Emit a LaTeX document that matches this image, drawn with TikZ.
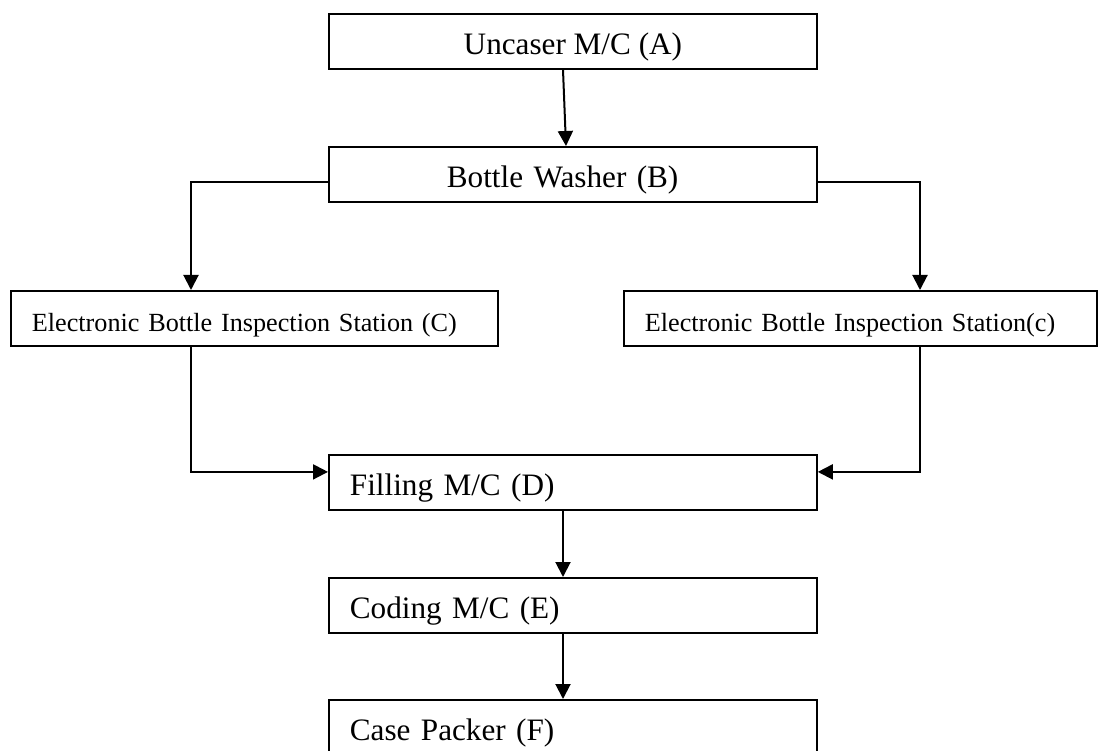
\documentclass[tikz,border=0pt]{standalone}
\usepackage{fontspec}
\setmainfont{Liberation Serif}
\usetikzlibrary{arrows.meta}
\begin{document}
\begin{tikzpicture}[x=1pt,y=-1pt,
  box/.style={draw,line width=1.8pt,rectangle,minimum height=55pt,inner ysep=0pt,
    text height=27pt,text depth=0pt,anchor=north west},
  bigtxt/.style={font=\fontsize{31.2}{34}\selectfont},
  smalltxt/.style={font=\fontsize{26.2}{30}\selectfont},
  cbox/.style={box,bigtxt,minimum width=488pt,align=center},
  lbox/.style={box,inner xsep=21pt,align=left},
  arr/.style={line width=2pt,-{Triangle[length=15pt,width=15pt]}}]
\useasboundingbox (0,0) rectangle (1098,751);
\node[cbox] (A) at (328,13) {Uncaser M/C (A)};
\node[box,bigtxt,inner xsep=118pt,text width=252pt,align=left] (B) at (328,146) {Bottle Washer (B)};
\node[lbox,smalltxt,text width=445pt] (C1) at (10,290) {Electronic Bottle Inspection Station (C)};
\node[lbox,smalltxt,text width=431pt] (C2) at (623,290) {Electronic Bottle Inspection Station(c)};
\node[lbox,bigtxt,text width=446pt] (D) at (328,454) {Filling M/C (D)};
\node[lbox,bigtxt,text width=446pt] (E) at (328,577) {Coding M/C (E)};
\node[lbox,bigtxt,text width=446pt] (F) at (328,699) {Case Packer (F)};
\draw[arr] ([xshift=235pt]A.south west) -- ([xshift=238pt]B.north west);
\draw[arr] ([yshift=-8pt]B.west) -| ([xshift=181pt]C1.north west);
\draw[arr] ([yshift=-8pt]B.east) -| ([xshift=297pt]C2.north west);
\draw[arr] ([xshift=181pt]C1.south west) |- ([yshift=10.5pt]D.west);
\draw[arr] ([xshift=297pt]C2.south west) |- ([yshift=10.5pt]D.east);
\draw[arr] ([xshift=235pt]D.south west) -- ([xshift=235pt]E.north west);
\draw[arr] ([xshift=235pt]E.south west) -- ([xshift=235pt]F.north west);
\end{tikzpicture}
\end{document}
